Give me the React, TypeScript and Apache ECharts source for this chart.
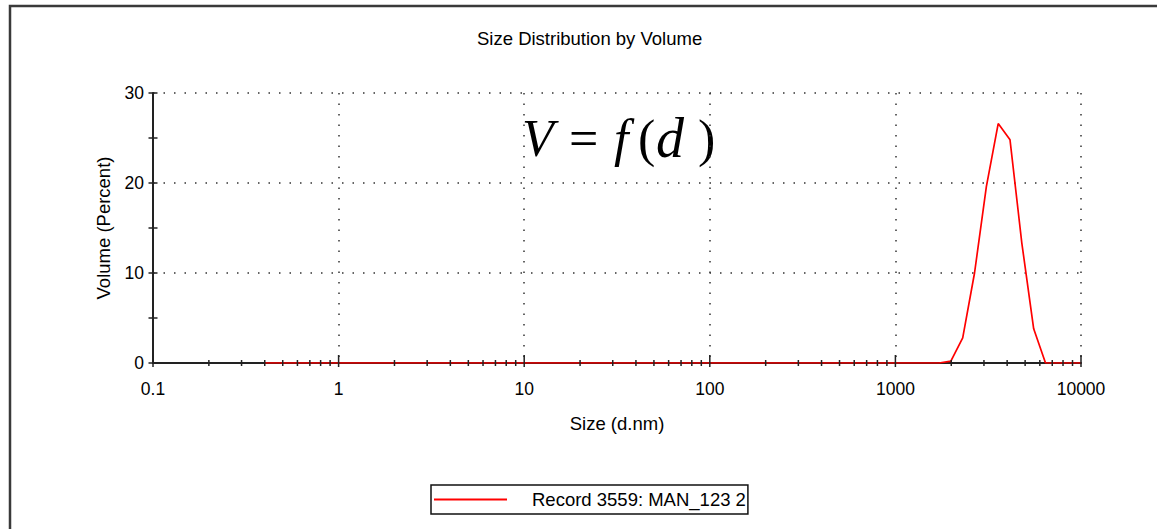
import React, { useEffect, useRef } from "react";
import * as echarts from "echarts";

// Size bins (d.nm) and volume (%)
const sizes = [0.4, 1718, 1990, 2305, 2669, 3091, 3580, 4145, 4801, 5560, 6439, 10000];
const volumes = [0, 0, 0.2, 2.8, 10.0, 19.6, 26.6, 24.8, 13.3, 3.8, 0, 0];

const xTickLabels = ["0.1", "1", "10", "100", "1000", "10000"];
const yTickLabels = ["0", "10", "20", "30"];
const majorXTicks = [0.1, 1, 10, 100, 1000, 10000];
const minorMultipliers = [2, 3, 4, 5, 6, 7, 8, 9];
const yTicks = [0, 5, 10, 15, 20, 25, 30];

const seriesName = "Record 3559: MAN_123 2";
const FONT = "'Liberation Sans', Arial, sans-serif";
const SERIF = "'Liberation Serif', serif";

export default function App() {
  const ref = useRef<HTMLDivElement>(null);
  useEffect(() => {
    if (!ref.current) return;
    const chart = echarts.init(ref.current, undefined, { renderer: "svg" });
    const minorXTicks: number[] = [];
    majorXTicks.slice(0, 5).forEach((d) => minorMultipliers.forEach((m) => minorXTicks.push(d * m)));

    const dotted = { color: "#333", width: 1.5, type: [1.5, 9] as any };
    const formulaPart = (text: string, x: number, italic: boolean, size = 52) => ({
      type: "text",
      x,
      y: 138,
      style: {
        text,
        fontFamily: SERIF,
        fontStyle: italic ? "italic" : "normal",
        fontSize: size,
        fill: "#000",
        verticalAlign: "middle",
        align: "left",
      },
    });

    chart.setOption({
      animation: false,
      backgroundColor: "#ffffff",
      title: {
        text: "Size Distribution by Volume",
        left: 477,
        top: 29,
        padding: 0,
        textStyle: { fontFamily: FONT, fontSize: 18.5, fontWeight: "normal", color: "#000" },
      },
      legend: {
        data: [{ name: seriesName, icon: "rect" }],
        left: 431,
        top: 485,
        orient: "horizontal",
        padding: [5, 2, 5, 3],
        borderColor: "#111",
        borderWidth: 1.5,
        borderRadius: 0,
        itemWidth: 73,
        itemHeight: 2,
        selectedMode: false,
        textStyle: { fontFamily: FONT, fontSize: 18.5, color: "#000", padding: [0, 0, 0, 20] },
      },
      grid: { left: 153, top: 93, right: 76, bottom: 166, containLabel: false },
      xAxis: {
        type: "log",
        logBase: 10,
        min: 0.1,
        max: 10000,
        splitNumber: 5,
        name: "Size (d.nm)",
        nameLocation: "middle",
        nameGap: 51,
        nameTextStyle: { fontFamily: FONT, fontSize: 18.5, color: "#000" },
        axisLine: { show: true, lineStyle: { color: "#222", width: 2 } },
        axisTick: { show: false },
        axisLabel: {
          fontFamily: FONT,
          fontSize: 17.5,
          color: "#000",
          margin: 17,
          formatter: (_v: number, i: number) => xTickLabels[i] ?? "",
        },
        splitLine: { show: true, lineStyle: dotted },
      },
      yAxis: {
        type: "value",
        min: 0,
        max: 30,
        interval: 10,
        name: "Volume (Percent)",
        nameLocation: "middle",
        nameGap: 40,
        nameTextStyle: { fontFamily: FONT, fontSize: 18.5, color: "#000" },
        axisLine: { show: true, lineStyle: { color: "#222", width: 2 } },
        axisTick: { show: false },
        axisLabel: {
          fontFamily: FONT,
          fontSize: 17.5,
          color: "#000",
          margin: 9,
          formatter: (_v: number, i: number) => yTickLabels[i] ?? "",
        },
        splitLine: { show: true, lineStyle: dotted },
      },
      series: [
        {
          name: seriesName,
          type: "line",
          data: sizes.map((s, i) => [s, volumes[i]]),
          symbol: "none",
          lineStyle: { color: "#ff0000", width: 1.7 },
          itemStyle: { color: "#ff0000" },
          z: 3,
        },
        {
          type: "custom",
          name: "minorX",
          data: minorXTicks.map((v) => [v, 0]),
          encode: { x: 0, y: 1 },
          clip: false,
          z: 4,
          silent: true,
          renderItem: (_p: any, api: any) => {
            const pt = api.coord([api.value(0), 0]);
            return {
              type: "line",
              shape: { x1: pt[0], y1: pt[1] - 3, x2: pt[0], y2: pt[1] + 3 },
              style: { stroke: "#222", lineWidth: 1.5 },
            };
          },
        },
        {
          type: "custom",
          name: "majorX",
          data: majorXTicks.map((v) => [v, 0]),
          encode: { x: 0, y: 1 },
          clip: false,
          z: 4,
          silent: true,
          renderItem: (_p: any, api: any) => {
            const pt = api.coord([api.value(0), 0]);
            return {
              type: "line",
              shape: { x1: pt[0], y1: pt[1] - 8, x2: pt[0], y2: pt[1] + 4 },
              style: { stroke: "#222", lineWidth: 1.5 },
            };
          },
        },
        {
          type: "custom",
          name: "yTicks",
          data: yTicks.map((v) => [0.1, v]),
          encode: { x: 0, y: 1 },
          clip: false,
          z: 4,
          silent: true,
          renderItem: (_p: any, api: any) => {
            const pt = api.coord([api.value(0), api.value(1)]);
            return {
              type: "line",
              shape: { x1: pt[0] - 4.5, y1: pt[1], x2: pt[0] + 4.5, y2: pt[1] },
              style: { stroke: "#222", lineWidth: 1.5 },
            };
          },
        },
      ],
      graphic: [
        {
          type: "polyline",
          shape: { points: [[10, 529], [10, 6], [1157, 6]] },
          style: { stroke: "#3a3a3a", lineWidth: 2.5, fill: "none" },
          silent: true,
        },
        {
          type: "group",
          silent: true,
          children: [
            formulaPart("V", 522, true),
            formulaPart("=", 569, false),
            formulaPart("f", 614, true),
            formulaPart("(", 638, false),
            formulaPart("d", 656, true, 56),
            formulaPart(")", 698, false),
          ],
        },
      ],
    });
    return () => chart.dispose();
  }, []);
  return (
    <div
      ref={ref}
      style={{ position: "fixed", left: 0, top: 0, width: 1157, height: 529, background: "#fff" }}
    />
  );
}
